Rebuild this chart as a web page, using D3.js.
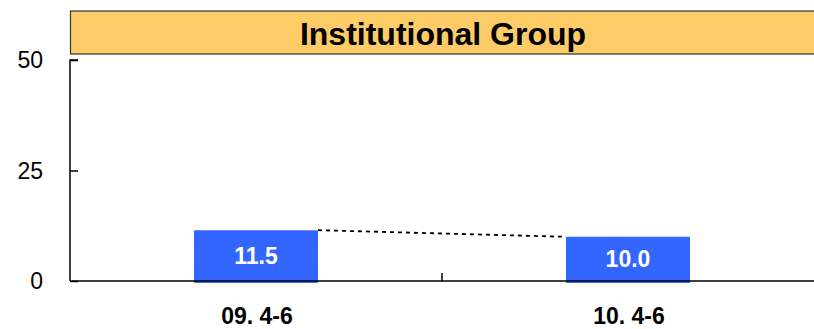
<!DOCTYPE html>
<html>
<head>
<meta charset="utf-8">
<script src="https://cdn.jsdelivr.net/npm/d3@7"></script>
<style>
  html, body { margin: 0; padding: 0; background: #fff; }
  svg { display: block; font-family: "Liberation Sans", Arial, sans-serif; }
</style>
</head>
<body>
<svg id="chart" width="814" height="329"></svg>
<script>
// Chart data
const categories = ["09. 4-6", "10. 4-6"];
const values = [11.5, 10.0];
const yTicks = [0, 25, 50];
const title = "Institutional Group";

const W = 814, H = 329;
const plot = { left: 70, right: 814, top: 60, bottom: 281 };

const svg = d3.select("#chart");

const x = d3.scaleBand()
  .domain(categories)
  .range([plot.left, plot.right])
  .padding(0);

const y = d3.scaleLinear()
  .domain([0, 50])
  .range([plot.bottom, plot.top]);

const barW = x.bandwidth() / 3;

// Title banner
svg.append("rect")
  .attr("x", plot.left + 0.5)
  .attr("y", 11)
  .attr("width", W - plot.left + 10)
  .attr("height", 43)
  .attr("fill", "#FECC66")
  .attr("stroke", "#333")
  .attr("stroke-width", 1.2);

svg.append("text")
  .attr("x", (plot.left + W) / 2 + 1)
  .attr("y", 45)
  .attr("text-anchor", "middle")
  .attr("font-size", 32)
  .attr("font-weight", "bold")
  .attr("fill", "#000")
  .text(title);

// Bars
svg.selectAll("rect.bar")
  .data(values)
  .join("rect")
  .attr("class", "bar")
  .attr("x", (d, i) => x(categories[i]) + x.bandwidth() / 2 - barW / 2)
  .attr("y", d => y(d))
  .attr("width", barW)
  .attr("height", d => y(0) - y(d) + 2)
  .attr("rx", 1)
  .attr("fill", "#3366FF");

// Dashed connector between bar tops
const conn = [
  [x(categories[0]) + x.bandwidth() / 2 + barW / 2, y(values[0])],
  [x(categories[1]) + x.bandwidth() / 2 - barW / 2, y(values[1])]
];
svg.append("path")
  .attr("d", d3.line()(conn))
  .attr("fill", "none")
  .attr("stroke", "#000")
  .attr("stroke-width", 1.8)
  .attr("stroke-dasharray", "4,4");

// Value labels
svg.selectAll("text.val")
  .data(values)
  .join("text")
  .attr("class", "val")
  .attr("x", (d, i) => x(categories[i]) + x.bandwidth() / 2)
  .attr("y", d => (y(d) + y(0)) / 2 + 8)
  .attr("text-anchor", "middle")
  .attr("font-size", 23)
  .attr("font-weight", "bold")
  .attr("fill", "#fff")
  .text(d => d.toFixed(1));

// Y axis
const yAxis = d3.axisRight(y)
  .tickValues(yTicks)
  .tickSize(8)
  .tickFormat("");
const gy = svg.append("g")
  .attr("transform", `translate(${plot.left},0)`)
  .call(yAxis);
gy.select(".domain").attr("d", `M8,${plot.top}H0V${plot.bottom}`)
  .attr("stroke", "#000").attr("stroke-width", 1.5);
gy.selectAll(".tick line").attr("stroke", "#000").attr("stroke-width", 1.5);

svg.selectAll("text.ytick")
  .data(yTicks)
  .join("text")
  .attr("class", "ytick")
  .attr("x", 43)
  .attr("y", d => y(d) + 8)
  .attr("text-anchor", "end")
  .attr("font-size", 23)
  .attr("fill", "#000")
  .text(d => d);

// X axis line with a divider tick between the categories
svg.append("line")
  .attr("x1", plot.left).attr("x2", W)
  .attr("y1", plot.bottom).attr("y2", plot.bottom)
  .attr("stroke", "#000").attr("stroke-width", 1.5);

svg.append("line")
  .attr("x1", x(categories[1])).attr("x2", x(categories[1]))
  .attr("y1", plot.bottom).attr("y2", plot.bottom - 8)
  .attr("stroke", "#000").attr("stroke-width", 1.5);

// Category labels
svg.selectAll("text.cat")
  .data(categories)
  .join("text")
  .attr("class", "cat")
  .attr("x", d => x(d) + x.bandwidth() / 2 + 1)
  .attr("y", 324)
  .attr("text-anchor", "middle")
  .attr("font-size", 23)
  .attr("font-weight", "bold")
  .attr("fill", "#000")
  .attr("xml:space", "preserve")
  .text(d => d);
</script>
</body>
</html>
